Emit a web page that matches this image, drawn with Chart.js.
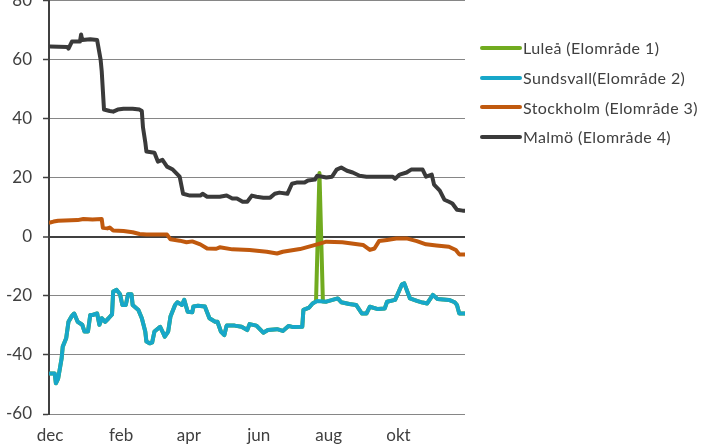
<!DOCTYPE html>
<html>
<head>
<meta charset="utf-8">
<script src="https://cdn.jsdelivr.net/npm/chart.js"></script>
<style>
  body { margin: 0; background: #fff; }
  #wrap { position: relative; width: 703px; height: 446px; overflow: hidden; }
  #chart { position: absolute; left: 0; top: -21px; }
  #legend { position: absolute; left: 480px; top: 33px; font: 16px Lato, sans-serif; letter-spacing: 0.4px; color: #404040; }
  .item { height: 29.7px; display: flex; align-items: center; white-space: nowrap; }
  .swatch { width: 42px; height: 4px; border-radius: 2px; margin-right: 1px; }
</style>
</head>
<body>
<div id="wrap">
  <canvas id="chart" width="703" height="468"></canvas>
  <div id="legend"></div>
</div>
<script>
// x values are days counted from 1 december
const tickDays = [0, 62, 121, 182, 243, 304];
const tickLabels = ['dec', 'feb', 'apr', 'jun', 'aug', 'okt'];

const luleaDays = [0,4,5,7,10,11,14,16,19,21,24,28,30,33,35,37,41,43,45,48,51,54,55,58,61,63,66,68,71,72,77,80,83,84,87,89,91,96,98,100,103,105,109,111,115,117,120,124,125,129,135,139,144,146,149,152,154,161,167,172,174,180,186,190,198,203,208,212,220,221,226,229,232,235,238,241,251,254,261,267,272,276,279,286,292,294,301,303,307,309,314,320,325,329,334,338,348,353,355,357,362];
const luleaValues = [-46.3,-46.3,-49.6,-48,-41.2,-37.2,-34.4,-28.8,-26.8,-26,-28.8,-29.8,-32.1,-32.1,-26.5,-26.5,-26,-29.8,-27.6,-28.8,-27.6,-26.3,-18.6,-18,-19.5,-23.1,-23.1,-19.5,-19.5,-23.1,-24.8,-27.6,-32.1,-35.5,-36.1,-35.8,-32.1,-30.5,-32.1,-33.8,-32.1,-27,-23.1,-22.2,-23.1,-21.4,-25.4,-25.6,-23.6,-23.4,-23.6,-27.6,-28.8,-28.8,-32.1,-33.3,-30.1,-30.1,-30.5,-31.6,-29.6,-30.1,-32.5,-31.6,-31.3,-31.9,-30.2,-30.6,-30.5,-24.8,-24,-22.6,-21.9,21.5,-21.9,-22,-20.9,-22.2,-22.8,-23.1,-26,-26,-23.7,-24.5,-24.3,-22,-21.4,-19.7,-16.1,-15.8,-20.9,-21.7,-22.3,-22.6,-19.7,-21.1,-21.4,-22.2,-23.1,-26,-26];

const sundsvallDays = [0,4,5,7,10,11,14,16,19,21,24,28,30,33,35,37,41,43,45,48,51,54,55,58,61,63,66,68,71,72,77,80,83,84,87,89,91,96,98,100,103,105,109,111,115,117,120,124,125,129,135,139,144,146,149,152,154,161,167,172,174,180,186,190,198,203,208,212,220,221,226,229,233,241,251,254,261,267,272,276,279,286,292,294,301,303,307,309,314,320,325,329,334,338,348,353,355,357,362];
const sundsvallValues = [-46.3,-46.3,-49.6,-48,-41.2,-37.2,-34.4,-28.8,-26.8,-26,-28.8,-29.8,-32.1,-32.1,-26.5,-26.5,-26,-29.8,-27.6,-28.8,-27.6,-26.3,-18.6,-18,-19.5,-23.1,-23.1,-19.5,-19.5,-23.1,-24.8,-27.6,-32.1,-35.5,-36.1,-35.8,-32.1,-30.5,-32.1,-33.8,-32.1,-27,-23.1,-22.2,-23.1,-21.4,-25.4,-25.6,-23.6,-23.4,-23.6,-27.6,-28.8,-28.8,-32.1,-33.3,-30.1,-30.1,-30.5,-31.6,-29.6,-30.1,-32.5,-31.6,-31.3,-31.9,-30.2,-30.6,-30.5,-24.8,-24,-22.6,-21.8,-22,-20.9,-22.2,-22.8,-23.1,-26,-26,-23.7,-24.5,-24.3,-22,-21.4,-19.7,-16.1,-15.8,-20.9,-21.7,-22.3,-22.6,-19.7,-21.1,-21.4,-22.2,-23.1,-26,-26];

const stockholmDays = [0,3,7,24,29,37,45,46,50,52,55,64,72,78,84,102,105,113,119,124,131,137,145,148,159,174,189,198,203,218,233,241,255,273,279,283,287,294,302,311,320,328,337,348,354,357,362];
const stockholmValues = [4.8,5.1,5.4,5.6,6,5.8,6,3,2.8,3.1,2.1,1.9,1.5,0.9,0.7,0.7,-0.9,-1.35,-1.9,-1.6,-2.6,-4,-4.1,-3.6,-4.3,-4.5,-5.1,-5.7,-5.1,-4.2,-2.6,-1.7,-1.9,-2.8,-4.5,-4,-1.5,-1.1,-0.6,-0.6,-1.5,-2.6,-3,-3.4,-4.5,-6,-6];

const malmoDays = [0,15,16,19,26,27,28,35,41,44,45,47,52,55,59,64,72,78,80,81,83,84,91,94,98,102,107,113,116,122,131,133,137,148,154,159,163,168,172,176,180,186,192,196,200,207,211,215,222,225,231,233,241,246,250,254,259,264,270,276,299,301,305,311,315,325,328,333,335,340,344,348,351,355,360,362];
const malmoValues = [64.3,64.2,63.6,66,66,68.4,66.5,66.8,66.5,60,56,43,42.5,42.3,43,43.3,43.3,43,42.5,37,32,28.8,28.4,25.4,26,23.7,22.7,20.3,14.5,13.9,13.9,14.5,13.5,13.5,13.9,12.9,12.9,11.8,11.8,13.9,13.5,13.2,13.2,14.5,14.9,14.5,17.9,18.3,18.3,19,19.3,20.6,20,20.3,22.7,23.4,22.3,21.7,20.6,20.3,20.3,19.6,21,21.7,22.7,22.7,20.3,21,17.6,15.6,12.5,11.8,11.2,9.1,8.8,8.8];

function points(days, values) {
  return days.map((d, i) => ({ x: d, y: values[i] }));
}

function line(label, days, values, color, order) {
  return {
    label: label,
    data: points(days, values),
    borderColor: color,
    backgroundColor: color,
    borderWidth: 4,
    pointRadius: 0,
    tension: 0,
    borderJoinStyle: 'round',
    borderCapStyle: 'round',
    order: order
  };
}

const ctx = document.getElementById('chart');

const chart = new Chart(ctx, {
  type: 'line',
  data: {
    datasets: [
      line('Luleå (Elområde 1)', luleaDays, luleaValues, '#71AB1F', 4),
      line('Sundsvall(Elområde 2)', sundsvallDays, sundsvallValues, '#17A7C9', 3),
      line('Stockholm (Elområde 3)', stockholmDays, stockholmValues, '#C0590E', 2),
      line('Malmö (Elområde 4)', malmoDays, malmoValues, '#3A3A3A', 1)
    ]
  },
  options: {
    responsive: false,
    animation: false,
    layout: { padding: { left: 0, right: 238, top: 0, bottom: 0 } },
    plugins: { legend: { display: false }, tooltip: { enabled: false } },
    scales: {
      x: {
        type: 'linear',
        min: -1,
        max: 362,
        afterBuildTicks: (scale) => { scale.ticks = tickDays.map(v => ({ value: v })); },
        afterFit: (scale) => { scale.height = 33; },
        grid: { display: false },
        border: { display: false },
        ticks: {
          padding: 3,
          color: '#404040',
          font: { family: 'Lato', size: 17 },
          maxRotation: 0,
          autoSkip: false,
          callback: (v) => tickLabels[tickDays.indexOf(v)]
        }
      },
      y: {
        min: -60,
        max: 80,
        afterFit: (scale) => { scale.width = 49; },
        border: { color: '#404040', width: 2 },
        grid: {
          color: (c) => c.tick && c.tick.value === 0 ? '#404040' : '#868686',
          lineWidth: (c) => c.tick && c.tick.value === 0 ? 2 : 1,
          tickColor: '#404040',
          tickWidth: 1.5,
          tickLength: 6
        },
        ticks: {
          stepSize: 20,
          padding: 11,
          color: '#404040',
          font: { family: 'Lato', size: 17 }
        }
      }
    }
  }
});

// legend built from the datasets, in dataset order
const legend = document.getElementById('legend');
chart.data.datasets.forEach(ds => {
  const item = document.createElement('div');
  item.className = 'item';
  const sw = document.createElement('span');
  sw.className = 'swatch';
  sw.style.background = ds.borderColor;
  const txt = document.createElement('span');
  txt.textContent = ds.label;
  item.appendChild(sw);
  item.appendChild(txt);
  legend.appendChild(item);
});
</script>
</body>
</html>
